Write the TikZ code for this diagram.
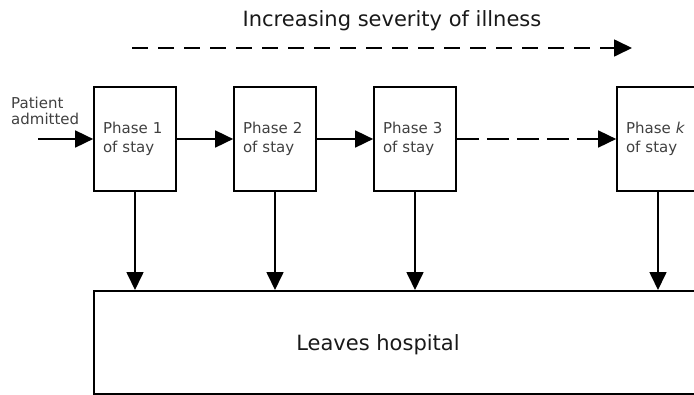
\documentclass[tikz,border=0pt]{standalone}
\usepackage{fontspec}
\setmainfont{DejaVu Sans}
\usetikzlibrary{arrows.meta}

\tikzset{
  phasebox/.style={draw,line width=1.7pt,minimum width=82pt,minimum height=104pt,inner xsep=9pt,text width=64pt,align=left,font=\fontsize{15}{19}\selectfont,text=black!75},
  flow/.style={line width=1.7pt,-{Triangle[length=18pt,width=17pt]}},
  bigtext/.style={font=\fontsize{21}{24}\selectfont,text=black!90}
}

\begin{document}
\begin{tikzpicture}[x=1pt,y=-1pt]
\useasboundingbox (0,0) rectangle (694,394);
\clip (0,0) rectangle (694,394);
\node[bigtext] (title) at (392,21) {Increasing severity of illness};
\coordinate (sevstart) at (132,48);
\coordinate (sevend) at (632,48);
\draw[flow,dash pattern=on 16pt off 10pt] (sevstart) -- (sevend);
\node[anchor=west,inner sep=0pt,align=left,font=\fontsize{15}{16}\selectfont,text=black!75] (admitted) at (11,111) {Patient\\admitted};
\coordinate (admit) at (38,139);
\node[phasebox] (p1) at (135,139) {Phase 1\\of stay};
\node[phasebox] (p2) at (275,139) {Phase 2\\of stay};
\node[phasebox] (p3) at (415,139) {Phase 3\\of stay};
\node[phasebox] (pk) at (658,139) {Phase \textit{k}\\of stay};
\node[draw,line width=1.7pt,minimum width=650pt,minimum height=103pt,anchor=north west] (leave) at (93,290) {};
\node[bigtext] (leavetext) at (378,345) {Leaves hospital};
\draw[flow] (admit) -- (p1.west);
\draw[flow] (p1.east) -- (p2.west);
\draw[flow] (p2.east) -- (p3.west);
\draw[flow,dash pattern=on 22pt off 8pt] (p3.east) -- (pk.west);
\foreach \p in {p1,p2,p3,pk}
  \draw[flow] (\p.south) -- (\p.south |- leave.north);
\end{tikzpicture}
\end{document}
